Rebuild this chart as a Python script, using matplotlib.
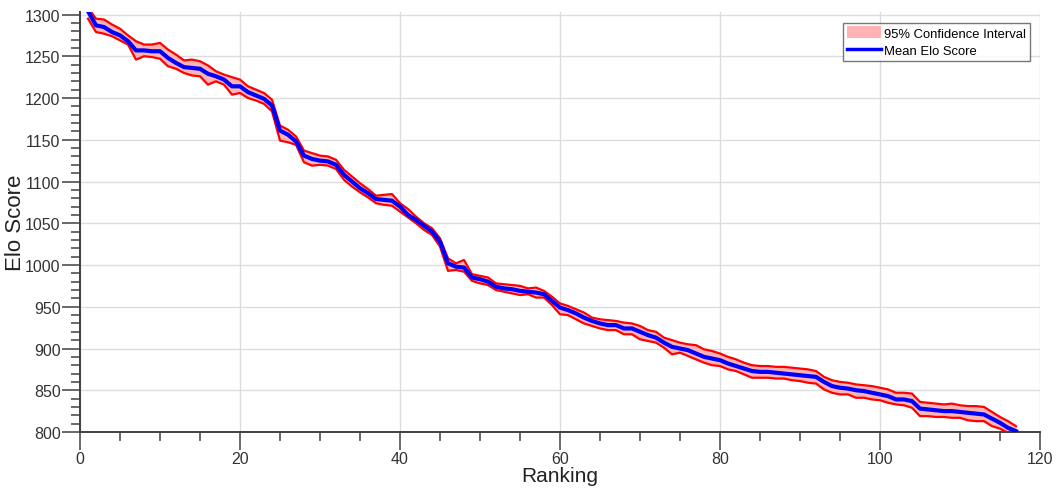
import numpy as np
import matplotlib
matplotlib.use("Agg")
import matplotlib.pyplot as plt
from matplotlib.ticker import MultipleLocator
from matplotlib.patches import Patch
from matplotlib.lines import Line2D

plt.rcParams['font.family'] = ['Liberation Sans', 'DejaVu Sans']

# rang 1..117
rank = np.arange(1, 118)

mean_elo = [1304, 1287, 1285, 1279, 1275, 1268, 1257, 1257, 1256, 1256,
            1248, 1242, 1237, 1236, 1235, 1229, 1226, 1222, 1214, 1214,
            1207, 1203, 1199, 1191, 1161, 1156, 1148, 1131, 1127, 1125,
            1124, 1120, 1108, 1100, 1092, 1086, 1079, 1078, 1077, 1070,
            1060, 1054, 1047, 1040, 1028, 1002, 998, 997, 985, 983,
            980, 974, 972, 971, 969, 968, 967, 965, 957, 949,
            946, 942, 937, 933, 930, 928, 928, 924, 924, 920,
            916, 913, 907, 902, 900, 898, 894, 890, 888, 886,
            882, 879, 876, 873, 872, 872, 871, 870, 869, 868,
            867, 866, 860, 855, 853, 852, 850, 849, 847, 845,
            843, 839, 839, 837, 828, 827, 826, 825, 825, 824,
            823, 822, 821, 816, 811, 805, 801]

upper_ci = [1308, 1295, 1294, 1288, 1283, 1275, 1268, 1264, 1264, 1266,
            1258, 1252, 1245, 1246, 1244, 1239, 1232, 1228, 1225, 1222,
            1214, 1210, 1206, 1198, 1167, 1162, 1154, 1137, 1134, 1131,
            1130, 1126, 1114, 1106, 1098, 1091, 1083, 1084, 1085, 1074,
            1067, 1058, 1050, 1044, 1032, 1008, 1002, 1006, 989, 987,
            985, 978, 977, 976, 975, 972, 973, 969, 962, 954,
            951, 947, 943, 937, 935, 934, 933, 931, 930, 927,
            922, 920, 913, 910, 907, 905, 904, 899, 897, 894,
            890, 887, 883, 880, 879, 879, 878, 878, 877, 876,
            875, 873, 866, 862, 860, 859, 857, 856, 855, 853,
            851, 847, 847, 846, 836, 835, 834, 833, 834, 832,
            831, 831, 830, 824, 818, 813, 807]

lower_ci = [1295, 1279, 1277, 1274, 1269, 1264, 1246, 1250, 1249, 1247,
            1238, 1235, 1230, 1227, 1226, 1216, 1220, 1216, 1204, 1206,
            1200, 1197, 1193, 1184, 1149, 1147, 1144, 1123, 1119, 1120,
            1119, 1115, 1102, 1094, 1087, 1081, 1074, 1072, 1071, 1064,
            1057, 1050, 1042, 1036, 1022, 993, 994, 992, 981, 978,
            976, 970, 968, 966, 964, 965, 961, 961, 952, 941,
            940, 935, 930, 927, 924, 922, 922, 917, 917, 911,
            909, 907, 901, 893, 895, 891, 887, 883, 880, 879,
            875, 873, 869, 865, 865, 865, 864, 864, 862, 861,
            859, 858, 851, 847, 845, 845, 841, 841, 839, 838,
            835, 833, 832, 829, 819, 819, 818, 818, 817, 817,
            814, 813, 813, 807, 804, 799, 795]

axis_col = '#404040'
text_col = '#333333'

fig = plt.figure(figsize=(10.56, 4.89), dpi=100)
ax = fig.add_axes([80 / 1056, 56 / 489, 960 / 1056, 420 / 489])

ax.fill_between(rank, lower_ci, upper_ci, color='#ffb3b3', lw=0, zorder=2)
ax.plot(rank, upper_ci, color='red', lw=1.6, zorder=3)
ax.plot(rank, lower_ci, color='red', lw=1.6, zorder=3)
ax.plot(rank, mean_elo, color='blue', lw=3, zorder=4)

ax.set_xlim(0, 120)
ax.set_ylim(800, 1303)
ax.xaxis.set_major_locator(MultipleLocator(20))
ax.xaxis.set_minor_locator(MultipleLocator(5))
ax.yaxis.set_major_locator(MultipleLocator(50))
ax.yaxis.set_minor_locator(MultipleLocator(10))

ax.grid(True, which='major', color='#dcdcdc', lw=1, zorder=0)
ax.set_axisbelow(True)

for s in ['top', 'right']:
    ax.spines[s].set_visible(False)
for s in ['left', 'bottom']:
    ax.spines[s].set_color(axis_col)
    ax.spines[s].set_linewidth(1.4)

ax.tick_params(which='major', length=13, width=1.1, color=axis_col,
               labelsize=11.5, labelcolor=text_col, pad=1)
ax.tick_params(which='minor', length=6.5, width=1.1, color=axis_col)

ax.set_xlabel('Ranking', fontsize=15, color='#222222', labelpad=0)
ax.set_ylabel('Elo Score', fontsize=16, color='#222222', labelpad=-1)

handles = [Patch(facecolor='#ffb3b3', edgecolor='none'),
           Line2D([0], [0], color='blue', lw=2.5)]
leg = ax.legend(handles, ['95% Confidence Interval', 'Mean Elo Score'],
                loc='upper right', bbox_to_anchor=(0.99, 0.975),
                fontsize=9.4, frameon=True, fancybox=False,
                handlelength=2.6, handleheight=1.0, handletextpad=0.25,
                borderpad=0.3, labelspacing=0.3, borderaxespad=0)
leg.get_frame().set_edgecolor('#555555')
leg.get_frame().set_linewidth(1)

fig.savefig('out.png', dpi=100)
